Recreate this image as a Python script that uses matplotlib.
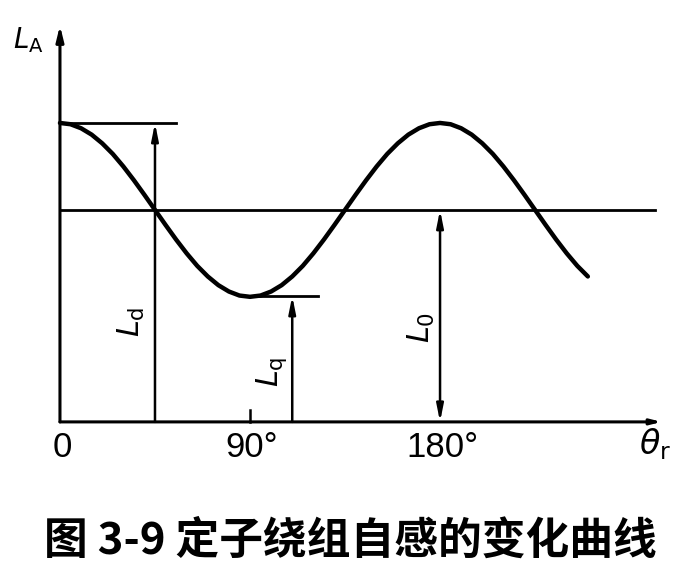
import matplotlib
matplotlib.use('Agg')
import matplotlib.pyplot as plt

plt.rcParams['font.family'] = ['Liberation Sans', 'DejaVu Sans']

# 曲线上读出的点（电角度, 自感，单位取 L0 = 1）
theta = list(range(0, 255, 5))
L_vals = [1.41, 1.404, 1.385, 1.355, 1.314, 1.264, 1.205, 1.140, 1.071, 1.0,
          0.929, 0.860, 0.795, 0.736, 0.686, 0.645, 0.615, 0.596, 0.59, 0.596,
          0.615, 0.645, 0.686, 0.736, 0.795, 0.860, 0.929, 1.0, 1.071, 1.140,
          1.205, 1.264, 1.314, 1.355, 1.385, 1.404, 1.41, 1.404, 1.385, 1.355,
          1.314, 1.264, 1.205, 1.140, 1.071, 1.0, 0.929, 0.860, 0.795, 0.736,
          0.686]

Ld = 1.41
L0 = 1.0
Lq = 0.594
Ld_at, Lq_at, L0_at = 45, 110, 180
tick_pos = [0, 90, 180]
tick_text = ['0', '90°', '180°']

fig = plt.figure(figsize=(6.93, 5.72), dpi=100)
ax = fig.add_axes([0, 0, 1, 1])
ax.set_xlim(-28.4, 299.8)
ax.set_ylim(-0.708, 1.99)
ax.axis('off')

# 坐标轴
ax.annotate('', xy=(0, 1.87), xytext=(0, 0),
            arrowprops=dict(arrowstyle='-|>,head_length=0.9,head_width=0.22',
                            color='black', lw=2.2, shrinkA=0, shrinkB=0))
ax.annotate('', xy=(285, 0), xytext=(0, 0),
            arrowprops=dict(arrowstyle='-|>,head_length=0.6,head_width=0.15',
                            color='black', lw=2.2, shrinkA=0, shrinkB=0))
ax.plot([90, 90], [0, 0.057], color='black', lw=1.8)

# 曲线和水平线
ax.plot(theta, L_vals, color='black', lw=3.2, solid_capstyle='round')
ax.plot([0, 282], [L0, L0], color='black', lw=2.0)
ax.plot([0, 55], [Ld, Ld], color='black', lw=2.0)
ax.plot([90, 122], [Lq, Lq], color='black', lw=2.0)

# 标注箭头
arr = dict(arrowstyle='-|>,head_length=1.0,head_width=0.2',
           color='black', lw=1.8, shrinkA=0, shrinkB=0)
ax.annotate('', xy=(Ld_at, Ld), xytext=(Ld_at, 0), arrowprops=arr)
ax.annotate('', xy=(Lq_at, Lq), xytext=(Lq_at, 0), arrowprops=arr)
ax.annotate('', xy=(L0_at, L0), xytext=(L0_at, 0),
            arrowprops=dict(arr, arrowstyle='<|-|>,head_length=1.0,head_width=0.2'))

ax.text(Ld_at - 11, 0.47, r'$L_{\rm d}$', rotation=90, fontsize=22,
        ha='center', va='center')
ax.text(Lq_at - 10, 0.235, r'$L_{\rm q}$', rotation=90, fontsize=22,
        ha='center', va='center')
ax.text(L0_at - 9, 0.445, r'$L_0$', rotation=90, fontsize=22,
        ha='center', va='center')

ax.text(-15, 1.80, r'$L_{\rm A}$', fontsize=20, ha='center', va='center')
ax.text(282, -0.105, r'$\theta_{\rm r}$', fontsize=24, ha='center', va='center')

for p, t in zip(tick_pos, tick_text):
    ax.text(p + 1, -0.12, t, fontsize=25, ha='center', va='center')

fig.text(0.505, 0.055, '图 3-9 定子绕组自感的变化曲线', fontsize=31.5,
         fontweight='bold', ha='center', va='center',
         family=['Noto Sans CJK SC', 'DejaVu Sans'])

fig.savefig('out.png', dpi=100)
